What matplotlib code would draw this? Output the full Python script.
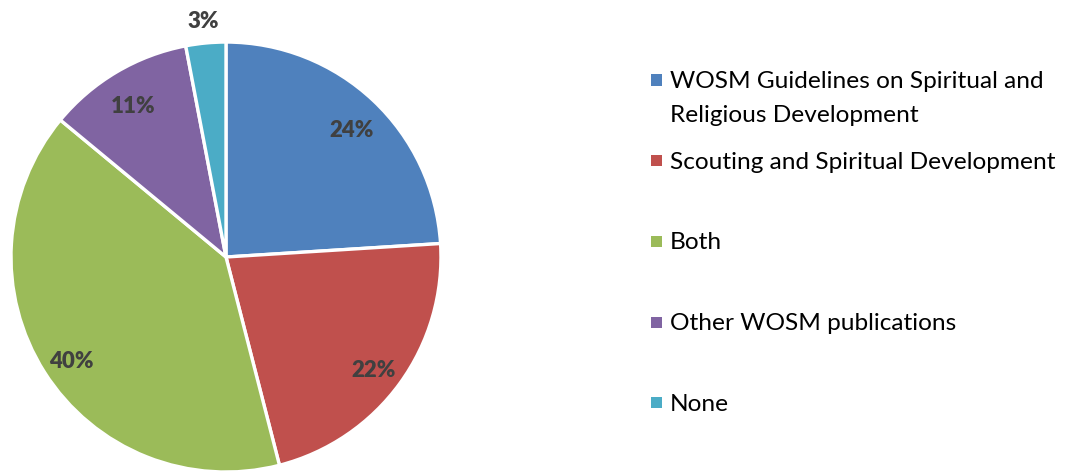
import matplotlib
matplotlib.use("Agg")
from matplotlib import pyplot as plt
from matplotlib.patches import Rectangle

categories = [
    "WOSM Guidelines on Spiritual and\nReligious Development",
    "Scouting and Spiritual Development",
    "Both",
    "Other WOSM publications",
    "None",
]
shares = [24, 22, 40, 11, 3]
colors = ["#4F81BD", "#C0504D", "#9BBB59", "#8064A2", "#4BACC6"]

plt.rcParams["font.family"] = ["Lato", "DejaVu Sans"]

fig = plt.figure(figsize=(10.69, 4.73), dpi=100)
ax = fig.add_axes([0.0103, 0.0021, 0.4022, 0.909])

wedges, texts, autotexts = ax.pie(
    shares,
    colors=colors,
    startangle=90,
    counterclock=False,
    autopct="%d%%",
    pctdistance=0.85,
    wedgeprops=dict(edgecolor="white", linewidth=2.4),
    textprops=dict(color="#404040", fontsize=16, fontweight="heavy"),
)
# small slice label sits outside the pie
x3, y3 = autotexts[-1].get_position()
autotexts[-1].set_position((x3 * 1.1 / 0.85, y3 * 1.1 / 0.85))
for t in autotexts[:-1]:
    x, y = t.get_position()
    t.set_position((x, y - 0.03))
ax.set_xlim(-1, 1)
ax.set_ylim(-1, 1)
ax.set_aspect("equal")
ax.axis("off")

# legend drawn by hand so the wrapped entry keeps its marker on the first line
top = 80
step = 80.7
for i, (lab, col) in enumerate(zip(categories, colors)):
    yc = top + i * step
    fy = 1 - yc / 473
    fig.patches.append(Rectangle((651 / 1069, fy - 5.5 / 473), 11 / 1069, 11 / 473,
                                 transform=fig.transFigure, facecolor=col,
                                 edgecolor="none"))
    fig.text(670 / 1069, fy + 9 / 473, lab, fontsize=17.6, va="top", ha="left",
             color="black", linespacing=1.75)

fig.savefig("out.png", dpi=100)
